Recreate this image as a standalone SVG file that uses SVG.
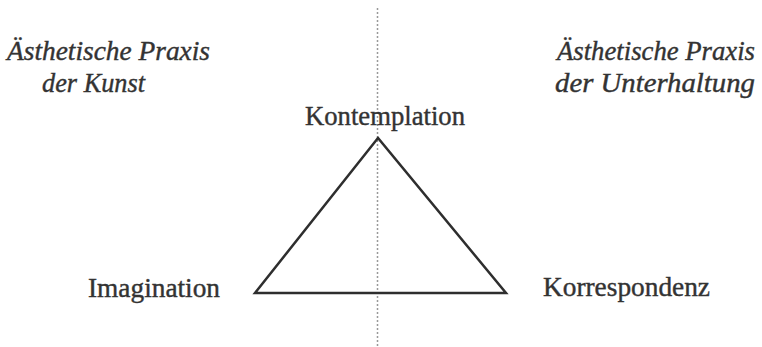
<svg xmlns="http://www.w3.org/2000/svg" width="762" height="347" viewBox="0 0 762 347">
<style>
.t{font-family:"Liberation Serif","Times New Roman",serif;fill:#333;stroke:#333;stroke-width:0.4px;font-size:27px}
.i{font-style:italic;font-size:27.5px}
</style>
<rect width="762" height="347" fill="#fff"/>
<g id="connectors">
<line x1="377.5" y1="8" x2="377.5" y2="347" stroke="#999" stroke-width="1.5" stroke-dasharray="2,2"/>
<polygon points="378,138 255,293 506,293" fill="none" stroke="#2e2e2e" stroke-width="2.5" stroke-linejoin="miter"/>
</g>
<g id="title-left">
<text class="t i" x="7" y="60" textLength="203" lengthAdjust="spacingAndGlyphs">Ästhetische Praxis</text>
<text class="t i" x="42" y="92" textLength="103" lengthAdjust="spacingAndGlyphs">der Kunst</text>
</g>
<g id="title-right">
<text class="t i" x="557" y="60" textLength="198" lengthAdjust="spacingAndGlyphs">Ästhetische Praxis</text>
<text class="t i" x="555" y="92" textLength="200" lengthAdjust="spacingAndGlyphs">der Unterhaltung</text>
</g>
<g id="node-kontemplation">
<text class="t" x="305" y="125" textLength="160" lengthAdjust="spacingAndGlyphs">Kontemplation</text>
</g>
<g id="node-imagination">
<text class="t" x="88" y="297" textLength="132" lengthAdjust="spacingAndGlyphs">Imagination</text>
</g>
<g id="node-korrespondenz">
<text class="t" x="543" y="296" textLength="167" lengthAdjust="spacingAndGlyphs">Korrespondenz</text>
</g>
</svg>
